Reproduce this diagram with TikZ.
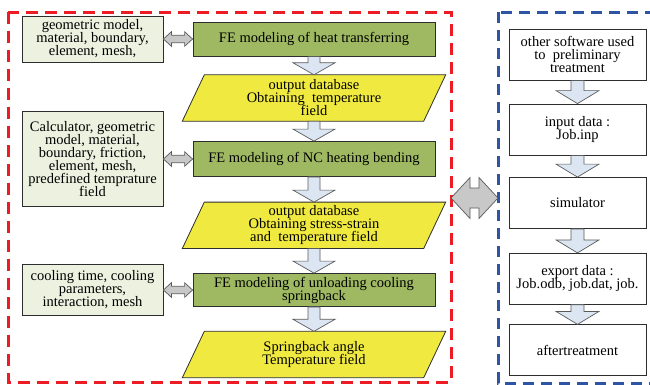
\documentclass[tikz,border=0pt]{standalone}
\usepackage{fontspec}
\setmainfont{Liberation Serif}
\usetikzlibrary{calc,backgrounds}
\definecolor{redframe}{RGB}{237,28,36}
\definecolor{blueframe}{RGB}{46,84,164}
\definecolor{boxgreen}{RGB}{158,185,98}
\definecolor{paleg}{RGB}{236,241,224}
\definecolor{paray}{RGB}{240,234,64}
\definecolor{arrblue}{RGB}{220,230,242}
\definecolor{arrgrey}{RGB}{200,200,200}
\definecolor{edgec}{RGB}{45,45,45}
\definecolor{greyedge}{RGB}{90,90,90}

\newcommand{\boxfont}{\fontsize{14.5}{13}\selectfont\lineskiplimit=-20pt\relax}

% block arrow pointing down: from, to, shaft half width, head half width, head length
\newcommand{\blockdown}[5]{%
  \draw[downarr] ($(#1)+(-#3,0)$) -- ($(#2)+(-#3,-#5)$) -- ($(#2)+(-#4,-#5)$) -- (#2)
    -- ($(#2)+(#4,-#5)$) -- ($(#2)+(#3,-#5)$) -- ($(#1)+(#3,0)$) -- cycle;}
% horizontal double block arrow: left tip, right tip, head length, head half, shaft half, style
\newcommand{\blockdbl}[6]{%
  \draw[#6] (#1) -- ($(#1)+(#3,-#4)$) -- ($(#1)+(#3,-#5)$) -- ($(#2)+(-#3,-#5)$)
    -- ($(#2)+(-#3,-#4)$) -- (#2) -- ($(#2)+(-#3,#4)$) -- ($(#2)+(-#3,#5)$)
    -- ($(#1)+(#3,#5)$) -- ($(#1)+(#3,#4)$) -- cycle;}

\tikzset{
  txt/.style={font=\boxfont, align=center, inner sep=0pt, text=black},
  leftbox/.style={txt, draw=edgec, fill=paleg, line width=0.8pt, minimum width=141pt},
  greenbox/.style={txt, draw=edgec, fill=boxgreen, line width=0.8pt, minimum width=242pt},
  paranode/.style={txt, minimum width=263pt, minimum height=46pt},
  parashape/.style={draw=edgec, fill=paray, line width=0.8pt},
  rightbox/.style={txt, draw=edgec, fill=white, line width=0.8pt, minimum width=137pt, minimum height=51pt},
  downarr/.style={draw=greyedge, fill=arrblue, line width=0.7pt, line join=miter},
  dblsmall/.style={draw=greyedge, fill=arrgrey, line width=0.7pt},
  dblbig/.style={draw=greyedge, fill=arrgrey, line width=0.7pt},
  redframestyle/.style={draw=redframe, line width=3pt, dash pattern=on 12pt off 7pt},
  blueframestyle/.style={draw=blueframe, line width=3pt, dash pattern=on 11pt off 7pt},
}

\begin{document}
\begin{tikzpicture}[x=1pt,y=-1pt]
\useasboundingbox (0,0) rectangle (650,384);
\clip (0,0) rectangle (650,384);

% frames
\coordinate (rNW) at (8,12);
\coordinate (rSE) at (451,382);
\coordinate (bNW) at (498,12);
\coordinate (bSE) at (665,383);
\draw[redframestyle] (rNW) rectangle (rSE);
\draw[blueframestyle] (bNW) rectangle (bSE);

% left parameter boxes
\node[leftbox, minimum height=46pt] (L1) at (92.5,39) {geometric model,\\ material, boundary,\\ element, mesh,};
\node[leftbox, minimum height=95pt] (L2) at (92.5,159) {Calculator, geometric\\ model, material,\\ boundary, friction,\\ element, mesh,\\ predefined temprature\\ field};
\node[leftbox, minimum height=51pt] (L3) at (92.5,290) {cooling time, cooling\\ parameters,\\ interaction, mesh};

% green FE boxes
\node[greenbox, minimum height=34pt] (G1) at (314,39) {FE modeling of heat transferring};
\node[greenbox, minimum height=35pt] (G2) at (314,159) {FE modeling of NC heating bending};
\node[greenbox, minimum height=33pt] (G3) at (314,290) {FE modeling of unloading cooling\\ springback};

% parallelograms
\node[paranode] (P1) at (314,98) {output database\\ Obtaining~ temperature\\ field};
\node[paranode] (P2) at (314,225.3) {output database\\ Obtaining stress-strain\\ and~ temperature field};
\node[paranode] (P3) at (314,354.5) {Springback angle\\ Temperature field};
\begin{pgfonlayer}{background}
\foreach \p in {P1,P2,P3}{
  \draw[parashape] ($(\p.north west)+(22,0)$) -- (\p.north east) -- ($(\p.south east)+(-22,0)$) -- (\p.south west) -- cycle;
}
\end{pgfonlayer}

% right column
\node[rightbox] (R1) at (577.5,54.5) {other software used\\ to~ preliminary\\ treatment};
\node[rightbox] (R2) at (577.5,129.5) {input data :\\ Job.inp};
\node[rightbox] (R3) at (577.5,203) {simulator};
\node[rightbox] (R4) at (577.5,278.8) {export data :\\ Job.odb, job.dat, job.};
\node[rightbox] (R5) at (577.5,350.3) {aftertreatment};

% down arrows, left column
\blockdown{G1.south}{P1.north}{6}{21}{12}
\blockdown{P1.south}{G2.north}{6}{21}{12}
\blockdown{G2.south}{P2.north}{6}{21}{12}
\blockdown{P2.south}{G3.north}{6}{21}{12}
\blockdown{G3.south}{P3.north}{6}{21}{12}

% down arrows, right column
\blockdown{R1.south}{R2.north}{6.5}{21.5}{13}
\blockdown{R2.south}{R3.north}{6.5}{21.5}{13}
\blockdown{R3.south}{R4.north}{6.5}{21.5}{13}
\blockdown{R4.south}{R5.north}{6.5}{21.5}{13}

% small double arrows
\blockdbl{L1.east}{G1.west}{8}{7.3}{3.7}{dblsmall}
\blockdbl{L2.east}{G2.west}{8}{7.3}{3.7}{dblsmall}
\blockdbl{L3.east}{G3.west}{8}{7.3}{3.7}{dblsmall}

% big double arrow between the two frames
\coordinate (bigL) at (rSE |- 0,198);
\coordinate (bigR) at (bNW |- 0,198);
\blockdbl{bigL}{bigR}{19}{20.5}{10}{dblbig}
\end{tikzpicture}
\end{document}
